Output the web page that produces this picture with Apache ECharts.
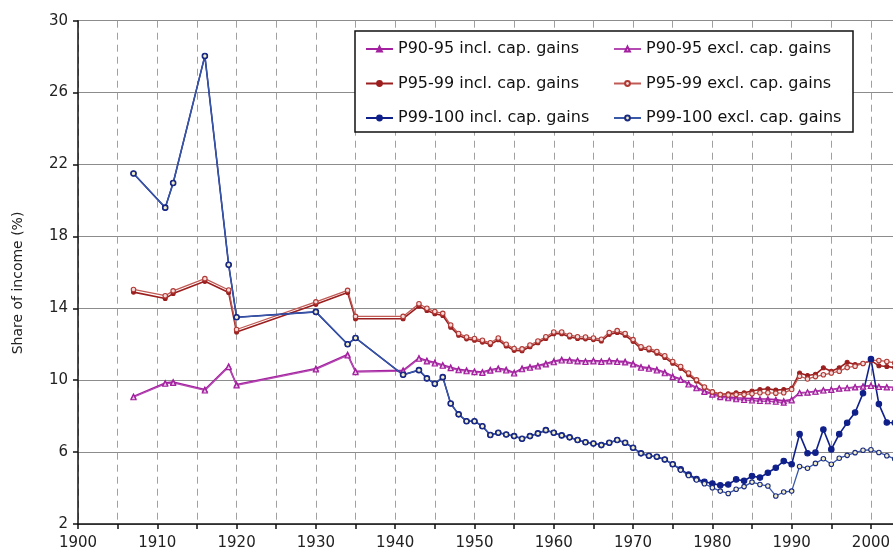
<!DOCTYPE html>
<html>
<head>
<meta charset="utf-8">
<style>
html,body{margin:0;padding:0;background:#fff;}
#chart{width:893px;height:559px;}
</style>
<script src="https://cdn.jsdelivr.net/npm/echarts@6/dist/echarts.min.js"></script>
</head>
<body>
<div id="chart"></div>
<script>
const years = [1907,1911,1912,1916,1919,1920,1930,1934,1935,1941,
  1943,1944,1945,1946,1947,1948,1949,1950,1951,1952,
  1953,1954,1955,1956,1957,1958,1959,1960,1961,1962,
  1963,1964,1965,1966,1967,1968,1969,1970,1971,1972,
  1973,1974,1975,1976,1977,1978,1979,1980,1981,1982,
  1983,1984,1985,1986,1987,1988,1989,1990,1991,1992,
  1993,1994,1995,1996,1997,1998,1999,2000,2001,2002,2003];

const p9095Incl = [9.10,9.85,9.90,9.48,10.78,9.76,10.65,11.43,10.50,10.55,
  11.24,11.10,10.98,10.85,10.72,10.60,10.55,10.50,10.46,10.58,
  10.66,10.59,10.42,10.66,10.74,10.81,10.93,11.05,11.15,11.13,
  11.10,11.06,11.10,11.06,11.10,11.06,11.04,10.93,10.74,10.69,
  10.59,10.44,10.22,10.07,9.81,9.60,9.40,9.25,9.12,9.07,
  9.02,9.00,8.98,8.96,8.95,8.92,8.85,8.93,9.30,9.33,
  9.38,9.45,9.48,9.55,9.57,9.62,9.66,9.70,9.64,9.62,9.60];

const p9095Excl = [9.05,9.80,9.85,9.43,10.73,9.71,10.60,11.38,10.45,10.50,
  11.19,11.05,10.93,10.80,10.67,10.55,10.50,10.45,10.41,10.53,
  10.61,10.54,10.37,10.61,10.69,10.76,10.88,11.00,11.10,11.08,
  11.05,11.01,11.05,11.01,11.05,11.01,10.99,10.88,10.69,10.64,
  10.54,10.39,10.17,10.02,9.76,9.55,9.35,9.20,9.06,9.00,
  8.94,8.90,8.87,8.84,8.83,8.80,8.75,8.88,9.28,9.31,
  9.36,9.43,9.46,9.53,9.55,9.60,9.64,9.68,9.62,9.60,9.58];

const p9599Incl = [14.90,14.55,14.82,15.50,14.88,12.68,14.22,14.88,13.42,13.42,
  14.12,13.88,13.70,13.60,12.95,12.50,12.30,12.22,12.12,11.98,
  12.25,11.90,11.66,11.64,11.86,12.08,12.32,12.58,12.58,12.40,
  12.32,12.30,12.26,12.18,12.55,12.66,12.50,12.16,11.76,11.68,
  11.50,11.26,10.94,10.66,10.30,9.95,9.60,9.35,9.22,9.25,
  9.30,9.30,9.40,9.48,9.52,9.45,9.48,9.55,10.40,10.26,
  10.33,10.69,10.50,10.69,11.00,10.87,10.93,11.10,10.80,10.76,10.70];

const p9599Excl = [15.05,14.70,14.97,15.65,15.02,12.82,14.36,15.00,13.55,13.55,
  14.25,14.00,13.82,13.72,13.07,12.60,12.40,12.32,12.22,12.08,
  12.35,12.00,11.76,11.74,11.96,12.18,12.42,12.68,12.68,12.50,
  12.42,12.40,12.35,12.28,12.65,12.76,12.60,12.26,11.86,11.78,
  11.60,11.36,11.04,10.76,10.40,10.02,9.62,9.35,9.20,9.18,
  9.20,9.20,9.25,9.30,9.30,9.28,9.30,9.48,10.22,10.07,
  10.20,10.30,10.40,10.50,10.70,10.78,10.93,11.10,11.10,11.04,10.96];

const p99100Incl = [21.50,19.60,20.97,28.04,16.42,13.50,13.80,12.00,12.35,10.30,
  10.56,10.10,9.80,10.17,8.70,8.10,7.72,7.72,7.44,6.95,
  7.08,6.98,6.89,6.74,6.89,7.04,7.22,7.08,6.93,6.82,
  6.67,6.55,6.48,6.39,6.52,6.67,6.52,6.24,5.93,5.80,
  5.74,5.59,5.32,5.05,4.75,4.50,4.35,4.25,4.15,4.20,
  4.48,4.40,4.67,4.58,4.85,5.13,5.50,5.32,7.00,5.94,
  5.97,7.26,6.15,7.00,7.63,8.20,9.27,11.17,8.67,7.65,7.63];

const p99100Excl = [21.50,19.60,20.97,28.04,16.42,13.50,13.80,12.00,12.35,10.30,
  10.56,10.10,9.80,10.17,8.70,8.10,7.72,7.72,7.44,6.95,
  7.08,6.98,6.89,6.74,6.89,7.04,7.22,7.08,6.93,6.82,
  6.67,6.55,6.48,6.39,6.52,6.67,6.52,6.24,5.93,5.80,
  5.74,5.59,5.32,5.00,4.70,4.45,4.24,4.02,3.83,3.70,
  3.93,4.08,4.33,4.20,4.11,3.56,3.78,3.83,5.20,5.10,
  5.37,5.63,5.32,5.66,5.82,5.97,6.10,6.13,5.98,5.80,5.62];

const seriesNames = [
  'P90-95 incl. cap. gains','P90-95 excl. cap. gains',
  'P95-99 incl. cap. gains','P95-99 excl. cap. gains',
  'P99-100 incl. cap. gains','P99-100 excl. cap. gains'
];

const yTicks = {min: 2, max: 30, interval: 4};
const xTicks = {min: 1900, max: 2005, interval: 5};

function pairs(vals){ return years.map((y,i)=>[y, vals[i]]); }

const chart = echarts.init(document.getElementById('chart'), null, {renderer:'canvas'});
const FONT = 'DejaVu Sans';

function mkSeries(name, vals, color, symbol, size, fill, border, lw){
  return {
    name: name, type: 'line', data: pairs(vals),
    symbol: symbol, symbolSize: size, showSymbol: true,
    lineStyle: {color: color, width: lw},
    itemStyle: {color: fill, borderColor: border, borderWidth: 1.1},
    emphasis: {disabled: true},
    animation: false
  };
}

const legendCommon = {
  orient: 'vertical', top: 41, padding: 0, itemWidth: 27, itemHeight: 6, itemGap: 18.5,
  selectedMode: false, z: 6,
  textStyle: {fontSize: 16, color: '#111', fontFamily: FONT, lineHeight: 16}
};

chart.setOption({
  animation: false,
  textStyle: {fontFamily: FONT},
  grid: {left: 78, top: 20.7, right: -17.6, bottom: 35, containLabel: false, outerBoundsMode: 'none'},
  xAxis: {
    type: 'value', min: xTicks.min, max: xTicks.max, interval: xTicks.interval,
    axisLine: {show: true, lineStyle: {color: '#111', width: 1.5}},
    axisTick: {show: true, length: 5, inside: false, lineStyle: {color: '#111', width: 1.5}},
    axisLabel: {
      fontSize: 15, color: '#222', margin: 12, fontFamily: FONT,
      formatter: function(v){ return (v % 10 === 0) ? String(v) : ''; }
    },
    splitLine: {show: true, lineStyle: {color: '#a0a0a0', width: 1, type: [7,5]}}
  },
  yAxis: {
    type: 'value', min: yTicks.min, max: yTicks.max, interval: yTicks.interval,
    axisLine: {show: true, lineStyle: {color: '#111', width: 1.5}},
    axisTick: {show: true, length: 5, inside: false, lineStyle: {color: '#111', width: 1.5}},
    axisLabel: {fontSize: 15, color: '#222', margin: 10, fontFamily: FONT},
    splitLine: {show: true, lineStyle: {color: '#8c8c8c', width: 1}}
  },
  graphic: [
    {type: 'rect', z: 3, shape: {x: 355, y: 31, width: 498, height: 101},
     style: {fill: '#fff', stroke: '#111', lineWidth: 1.5}},
    {type: 'text', z: 3, x: 18, y: 283, rotation: Math.PI/2,
     style: {text: 'Share of income (%)', fill: '#222', font: '14px "DejaVu Sans"',
             textAlign: 'center', textVerticalAlign: 'middle'}}
  ],
  legend: [
    Object.assign({}, legendCommon, {data: [seriesNames[0], seriesNames[2], seriesNames[4]], left: 365}),
    Object.assign({}, legendCommon, {data: [seriesNames[1], seriesNames[3], seriesNames[5]], left: 613})
  ],
  series: [
    mkSeries(seriesNames[0], p9095Incl, '#a3209f', 'triangle', 5, '#a3209f', '#a3209f', 1.6),
    mkSeries(seriesNames[1], p9095Excl, '#b54ab3', 'triangle', 5, '#e8c8e8', '#a3209f', 1.3),
    mkSeries(seriesNames[2], p9599Incl, '#9c1f1f', 'circle', 4, '#9c1f1f', '#9c1f1f', 1.6),
    mkSeries(seriesNames[3], p9599Excl, '#c05a55', 'circle', 4.5, '#f4dcdc', '#b03a35', 1.3),
    mkSeries(seriesNames[4], p99100Incl, '#10208a', 'circle', 5.5, '#10208a', '#10208a', 1.6),
    mkSeries(seriesNames[5], p99100Excl, '#3a58a8', 'circle', 4.5, '#f2f0c8', '#1a2a80', 1.3)
  ]
});
</script>
</body>
</html>
